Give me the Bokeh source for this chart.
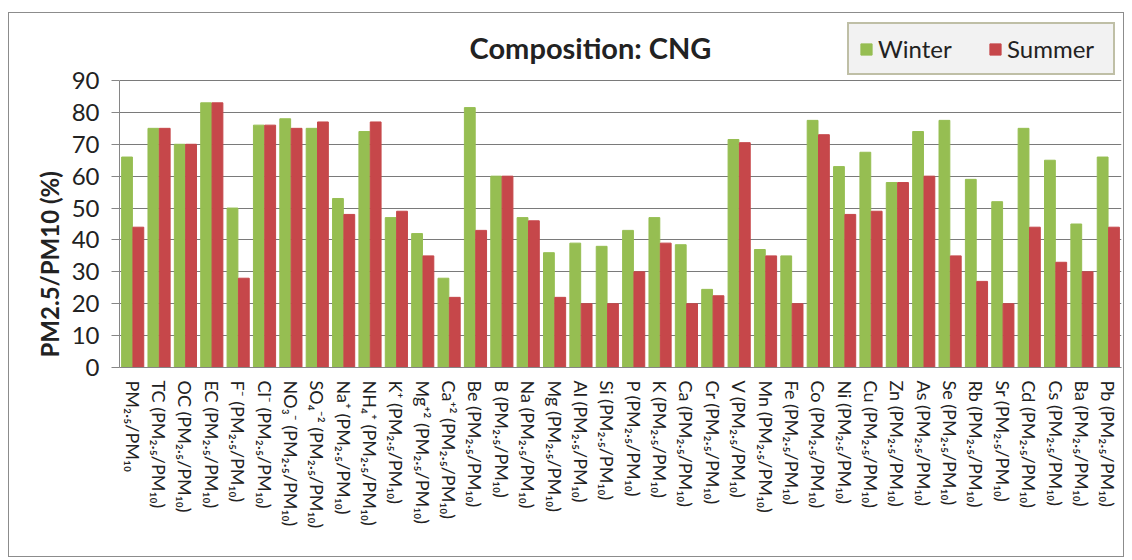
from bokeh.plotting import figure
from bokeh.models import (FactorRange, Range1d, ColumnDataSource, Legend, LegendItem,
                          Title, FixedTicker, Label)
from bokeh.transform import dodge
from bokeh.embed import file_html
from bokeh.resources import INLINE

# ---- data ----
species = ["PM₂.₅/PM₁₀", "TC", "OC", "EC", "F⁻", "Cl⁻", "NO₃⁻", "SO₄⁻²", "Na⁺", "NH₄⁺",
           "K⁺", "Mg⁺²", "Ca⁺²", "Be", "B", "Na", "Mg", "Al", "Si", "P", "K", "Ca", "Cr",
           "V", "Mn", "Fe", "Co", "Ni", "Cu", "Zn", "As", "Se", "Rb", "Sr", "Cd", "Cs",
           "Ba", "Pb"]
ratio_suffix = "(PM₂.₅/PM₁₀)"
winter = [66, 75, 70, 83, 50, 76, 78, 75, 53, 74,
          47, 42, 28, 81.5, 60, 47, 36, 39, 38, 43, 47, 38.5, 24.5,
          71.5, 37, 35, 77.5, 63, 67.5, 58, 74, 77.5, 59, 52, 75, 65,
          45, 66]
summer = [44, 75, 70, 83, 28, 76, 75, 77, 48, 77,
          49, 35, 22, 43, 60, 46, 22, 20, 20, 30, 39, 20, 22.5,
          70.5, 35, 20, 73, 48, 49, 58, 60, 35, 27, 20, 44, 33,
          30, 44]
y_ticks = [0, 10, 20, 30, 40, 50, 60, 70, 80, 90]
y_max = 90
series_names = ["Winter", "Summer"]
chart_title = "Composition: CNG"
y_title = "PM2.5/PM10 (%)"

categories = [species[0]] + [f"{s} {ratio_suffix}" for s in species[1:]]

GREEN = "#96BE52"
RED = "#C6474A"
FONT = "Lato"

# ---- layout (pixels) ----
FRAME_W, FRAME_H = 1002, 354
BORDER_TOP, BORDER_BOTTOM = 0, 189
BORDER_LEFT, BORDER_RIGHT = 110, 2
plot_h = 287                      # pixel height of the 0..90 region
y_end = y_max * FRAME_H / plot_h  # headroom above 90 for title & legend

src = ColumnDataSource(dict(cat=categories, winter=winter, summer=summer))

p = figure(frame_width=FRAME_W, frame_height=FRAME_H, title=None,
           x_range=FactorRange(factors=categories, range_padding=0),
           y_range=Range1d(0, y_end),
           output_backend="svg", toolbar_location=None,
           min_border_left=BORDER_LEFT, min_border_right=BORDER_RIGHT,
           min_border_top=BORDER_TOP, min_border_bottom=BORDER_BOTTOM,
           background_fill_color="white", border_fill_color="white")
p.outline_line_color = None
p.styles = {"border": "1px solid #8c8c8c", "margin-top": "12px", "margin-left": "8px"}

r1 = p.vbar(x=dodge("cat", -0.215, range=p.x_range), top="winter", width=0.41,
            source=src, fill_color=GREEN, line_color=GREEN)
r2 = p.vbar(x=dodge("cat", 0.215, range=p.x_range), top="summer", width=0.41,
            source=src, fill_color=RED, line_color=RED)

# chart title inside the headroom (screen units relative to the frame)
title_lbl = Label(x=471, y=320, x_units="screen", y_units="screen",
                  text=chart_title, text_align="center", text_baseline="middle",
                  text_font=FONT, text_font_size="29px", text_font_style="bold",
                  text_color="#222222")
p.add_layout(title_lbl)

# y axis title as a left-side Title
ytitle = Title(text=y_title, align="left", offset=10,
               text_font=FONT, text_font_size="24px", text_font_style="bold",
               text_color="#222222")
p.add_layout(ytitle, "left")

# axes
p.yaxis.ticker = FixedTicker(ticks=y_ticks)
p.yaxis.bounds = (0, y_max)
p.yaxis.major_tick_out = 8
p.yaxis.major_tick_in = 0
p.yaxis.minor_tick_line_color = None
p.yaxis.major_label_standoff = 12
p.yaxis.major_label_text_font = FONT
p.yaxis.major_label_text_font_size = "24px"
p.yaxis.major_label_text_color = "#222222"
p.yaxis.axis_line_color = "#868686"
p.yaxis.major_tick_line_color = "#868686"

p.xaxis.major_label_orientation = "vertical"
p.xaxis.major_tick_out = 0
p.xaxis.major_tick_in = 0
p.xaxis.major_label_standoff = 13
p.xaxis.major_label_text_font = FONT
p.xaxis.major_label_text_font_size = "18px"
p.xaxis.major_label_text_color = "#222222"
p.xaxis.axis_line_color = "#868686"

p.xgrid.grid_line_color = None
p.ygrid.grid_line_color = "#7a7a7a"
p.ygrid.grid_line_width = 1

legend = Legend(items=[LegendItem(label=series_names[0], renderers=[r1]),
                       LegendItem(label=series_names[1], renderers=[r2])],
                orientation="horizontal", location=(728, 292),
                padding=10, spacing=14, margin=0,
                glyph_width=14, glyph_height=14, label_standoff=5,
                label_width=96,
                label_text_font=FONT, label_text_font_size="24px",
                label_text_color="#222222",
                border_line_color="#8c8c5a", border_line_width=2,
                background_fill_color="#f2f2f2", background_fill_alpha=1)
p.add_layout(legend)

open("out.html", "w").write(file_html(p, INLINE))
